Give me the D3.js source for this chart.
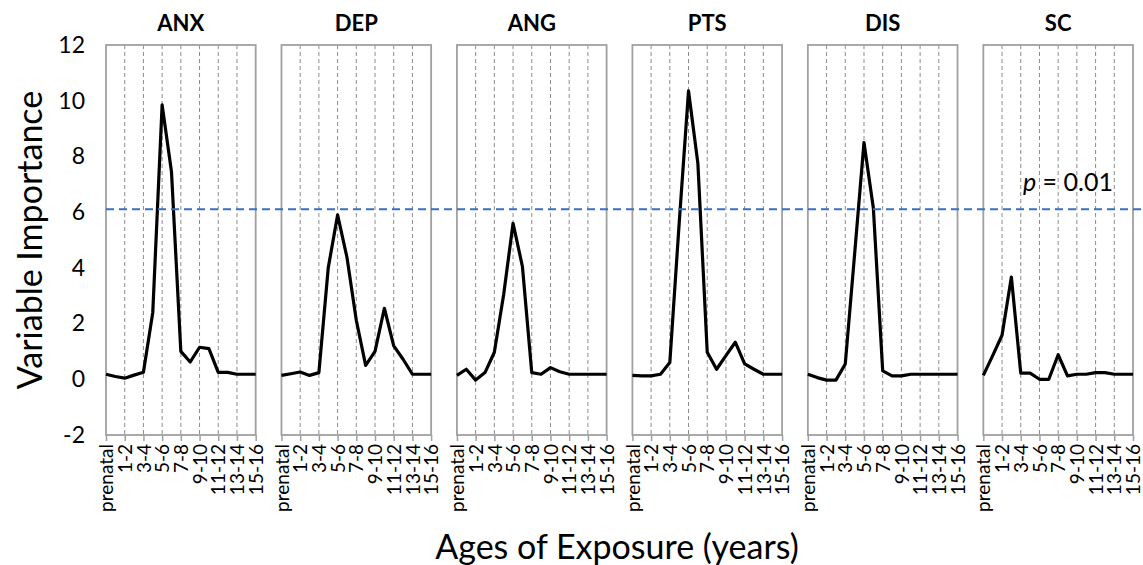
<!DOCTYPE html>
<html>
<head>
<meta charset="utf-8">
<script src="https://cdn.jsdelivr.net/npm/d3@7"></script>
<style>
  body { margin: 0; background: #fff; }
  text { font-family: Lato, "Open Sans", sans-serif; fill: #000; }
</style>
</head>
<body>
<div id="chart"></div>
<script>
// Categories: one point per year of exposure
const ages = ["prenatal", "1", "2", "3", "4", "5", "6", "7", "8", "9", "10", "11", "12", "13", "14", "15", "16"];
const tickAges = ["prenatal", "2", "4", "6", "8", "10", "12", "14", "16"];
const tickLabels = ["prenatal", "1-2", "3-4", "5-6", "7-8", "9-10", "11-12", "13-14", "15-16"];
const yTicks = [-2, 0, 2, 4, 6, 8, 10, 12];
const threshold = 6.1;

const panels = ["ANX", "DEP", "ANG", "PTS", "DIS", "SC"];

// Variable importance
const anx = [0.18, 0.1, 0.04, 0.15, 0.25, 2.4, 9.85, 7.45, 1.0, 0.62, 1.15, 1.1, 0.25, 0.25, 0.18, 0.18, 0.18];
const dep = [0.14, 0.2, 0.26, 0.14, 0.24, 4.0, 5.9, 4.38, 2.12, 0.5, 1.0, 2.55, 1.2, 0.72, 0.18, 0.18, 0.18];
const ang = [0.14, 0.36, -0.03, 0.24, 0.97, 3.05, 5.6, 4.05, 0.24, 0.18, 0.42, 0.27, 0.18, 0.18, 0.18, 0.18, 0.18];
const pts = [0.14, 0.12, 0.12, 0.18, 0.6, 5.6, 10.35, 7.75, 0.97, 0.36, 0.85, 1.33, 0.55, 0.36, 0.18, 0.18, 0.18];
const dis = [0.18, 0.06, -0.03, -0.03, 0.55, 4.5, 8.5, 6.15, 0.3, 0.12, 0.12, 0.18, 0.18, 0.18, 0.18, 0.18, 0.18];
const sc  = [0.14, 0.85, 1.58, 3.67, 0.22, 0.22, 0.0, 0.0, 0.88, 0.12, 0.18, 0.18, 0.24, 0.24, 0.18, 0.18, 0.18];

const series = { ANX: anx, DEP: dep, ANG: ang, PTS: pts, DIS: dis, SC: sc };

const width = 1143, height = 565;

const svg = d3.select("#chart")
  .append("svg")
  .attr("width", width)
  .attr("height", height);

// Panel positions
const panelX = d3.scaleBand()
  .domain(panels)
  .range([106, 1133])
  .paddingInner(0.147);

const pw = panelX.bandwidth();

const y = d3.scaleLinear()
  .domain([-2, 12])
  .range([435, 45]);

const x = d3.scalePoint()
  .domain(ages)
  .range([0, pw]);

const line = d3.line()
  .x((d, i) => x(ages[i]))
  .y(d => y(d));

panels.forEach(name => {
  const g = svg.append("g")
    .attr("transform", `translate(${panelX(name)},0)`);

  // dashed vertical gridlines
  g.selectAll(".grid")
    .data(tickAges.slice(1, -1))
    .join("line")
      .attr("x1", d => x(d))
      .attr("x2", d => x(d))
      .attr("y1", y(12))
      .attr("y2", y(-2))
      .attr("stroke", "#8c8c8c")
      .attr("stroke-width", 1)
      .attr("stroke-dasharray", "4,3");

  // bottom axis
  const ax = g.append("g")
    .attr("transform", `translate(0,${y(-2)})`)
    .call(d3.axisBottom(x)
      .tickValues(tickAges)
      .tickFormat((d, i) => tickLabels[i])
      .tickSize(6));
  ax.select(".domain").remove();
  ax.selectAll("line").attr("stroke", "#a0a0a0").attr("stroke-width", 1.5);
  ax.selectAll("text")
    .attr("transform", "rotate(-90)")
    .attr("x", -9)
    .attr("y", 0)
    .attr("dy", "0.35em")
    .style("text-anchor", "end")
    .style("font-size", "19px")
    .style("font-family", "Lato, 'Open Sans', sans-serif");

  // panel box
  g.append("rect")
    .attr("x", 0)
    .attr("y", y(12))
    .attr("width", pw)
    .attr("height", y(-2) - y(12))
    .attr("fill", "none")
    .attr("stroke", "#a0a0a0")
    .attr("stroke-width", 1.8);

  // the line
  g.append("path")
    .datum(series[name])
    .attr("d", line)
    .attr("fill", "none")
    .attr("stroke", "#000")
    .attr("stroke-width", 3.2)
    .attr("stroke-linejoin", "round");

  // panel title
  g.append("text")
    .attr("x", pw / 2)
    .attr("y", 31)
    .attr("text-anchor", "middle")
    .style("font-size", "22px")
    .style("font-weight", "bold")
    .text(name);
});

// Y axis on the first panel
const yAxis = svg.append("g")
  .attr("transform", `translate(${panelX(panels[0])},0)`)
  .call(d3.axisLeft(y)
    .tickValues(yTicks)
    .tickFormat(d => String(d))
    .tickSize(0)
    .tickPadding(21));
yAxis.select(".domain").remove();
yAxis.selectAll("text")
  .style("font-size", "23px")
  .style("font-family", "Lato, 'Open Sans', sans-serif");

// Significance threshold
svg.append("line")
  .attr("x1", panelX(panels[0]))
  .attr("x2", width)
  .attr("y1", y(threshold))
  .attr("y2", y(threshold))
  .attr("stroke", "#3a6fc4")
  .attr("stroke-width", 2)
  .attr("stroke-dasharray", "8,5");

const pLabel = svg.append("text")
  .attr("x", 1023)
  .attr("y", 191)
  .style("font-size", "25px");
pLabel.append("tspan").style("font-style", "italic").text("p");
pLabel.append("tspan").text(" = 0.01");

// Axis titles
svg.append("text")
  .attr("transform", `translate(42,${(y(12) + y(-2)) / 2}) rotate(-90)`)
  .attr("text-anchor", "middle")
  .style("font-size", "34px")
  .text("Variable Importance");

svg.append("text")
  .attr("x", 617)
  .attr("y", 559)
  .attr("text-anchor", "middle")
  .style("font-size", "34px")
  .text("Ages of Exposure (years)");
</script>
</body>
</html>
